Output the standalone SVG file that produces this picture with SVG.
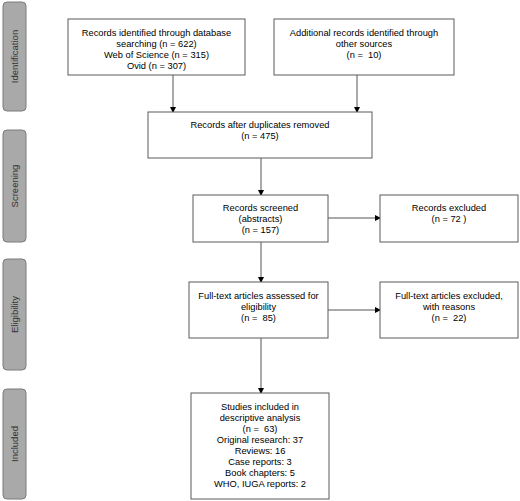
<svg xmlns="http://www.w3.org/2000/svg" width="520" height="501" viewBox="0 0 520 501">
<defs>
<marker id="ah" markerWidth="6" markerHeight="6" refX="5" refY="3" orient="auto" markerUnits="userSpaceOnUse">
<path d="M0,0 L6,3 L0,6 Z" fill="#000"/>
</marker>
<style>
.box{fill:#fff;stroke:#5a5a5a;stroke-width:1}
.side{fill:#a9a9a9;stroke:#7a7a7a;stroke-width:1}
.t{font-family:"Liberation Sans",Arial,sans-serif;font-size:9.3px;fill:#000;text-anchor:middle;white-space:pre}
.st{font-family:"Liberation Sans",Arial,sans-serif;font-size:9.5px;fill:#333;text-anchor:middle}
.c{stroke:#555;stroke-width:1;fill:none;marker-end:url(#ah)}
</style>
</defs>
<rect width="520" height="501" fill="#fff"/>
<g id="side-identification"><rect class="side" x="3" y="2" width="23" height="109" rx="4"/><text class="st" transform="translate(17.5,56.5) rotate(-90)">Identification</text></g>
<g id="side-screening"><rect class="side" x="3" y="130" width="23" height="112" rx="4"/><text class="st" transform="translate(17.5,186) rotate(-90)">Screening</text></g>
<g id="side-eligibility"><rect class="side" x="3" y="259" width="23" height="111" rx="4"/><text class="st" transform="translate(17.5,314.5) rotate(-90)">Eligibility</text></g>
<g id="side-included"><rect class="side" x="3" y="389" width="23" height="110" rx="4"/><text class="st" transform="translate(17.5,444) rotate(-90)">Included</text></g>

<g id="connectors">
<line class="c" x1="173" y1="75" x2="173" y2="112"/>
<line class="c" x1="357" y1="75" x2="357" y2="112"/>
<line class="c" x1="261" y1="158" x2="261" y2="195"/>
<line class="c" x1="328" y1="218" x2="380" y2="218"/>
<line class="c" x1="261" y1="242" x2="261" y2="282"/>
<line class="c" x1="328" y1="310" x2="380" y2="310"/>
<line class="c" x1="261" y1="338" x2="261" y2="393"/>
</g>

<g id="n1"><rect class="box" x="68" y="19" width="177" height="56"/>
<text class="t" x="156.5" y="36">Records identified through database</text>
<text class="t" x="156.5" y="47">searching (n = 622)</text>
<text class="t" x="156.5" y="58">Web of Science (n = 315)</text>
<text class="t" x="156.5" y="69">Ovid (n = 307)</text></g>
<g id="n2"><rect class="box" x="274" y="19" width="180" height="56"/>
<text class="t" x="364" y="36">Additional records identified through</text>
<text class="t" x="364" y="47">other sources</text>
<text class="t" x="364" y="58">(n =  10)</text></g>
<g id="n3"><rect class="box" x="148" y="112" width="224" height="46"/>
<text class="t" x="260" y="128">Records after duplicates removed</text>
<text class="t" x="260" y="139">(n = 475)</text></g>
<g id="n4"><rect class="box" x="193" y="195" width="135" height="47"/>
<text class="t" x="260.5" y="211">Records screened</text>
<text class="t" x="260.5" y="222">(abstracts)</text>
<text class="t" x="260.5" y="233">(n = 157)</text></g>
<g id="n5"><rect class="box" x="380" y="195" width="138" height="47"/>
<text class="t" x="449" y="211">Records excluded</text>
<text class="t" x="449" y="222">(n = 72 )</text></g>
<g id="n6"><rect class="box" x="189" y="282" width="139" height="56"/>
<text class="t" x="258.5" y="299">Full-text articles assessed for</text>
<text class="t" x="258.5" y="310">eligibility</text>
<text class="t" x="258.5" y="321">(n =  85)</text></g>
<g id="n7"><rect class="box" x="380" y="282" width="138" height="56"/>
<text class="t" x="449" y="299">Full-text articles excluded,</text>
<text class="t" x="449" y="310">with reasons</text>
<text class="t" x="449" y="321">(n =  22)</text></g>
<g id="n8"><rect class="box" x="191" y="393" width="138" height="106"/>
<text class="t" x="260" y="410">Studies included in</text>
<text class="t" x="260" y="421">descriptive analysis</text>
<text class="t" x="260" y="432">(n =  63)</text>
<text class="t" x="260" y="443">Original research: 37</text>
<text class="t" x="260" y="454">Reviews: 16</text>
<text class="t" x="260" y="465">Case reports: 3</text>
<text class="t" x="260" y="476">Book chapters: 5</text>
<text class="t" x="260" y="487">WHO, IUGA reports: 2</text></g>
</svg>
